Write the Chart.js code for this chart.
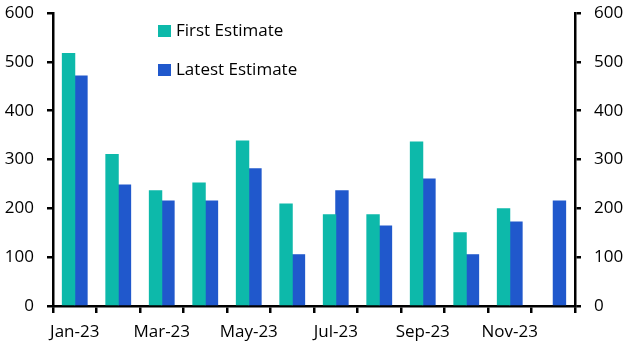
<!DOCTYPE html>
<html>
<head>
<meta charset="utf-8">
<script src="https://cdn.jsdelivr.net/npm/chart.js@4"></script>
<style>
  html, body { margin: 0; padding: 0; background: #fff; }
  #wrap { width: 628px; height: 353px; }
</style>
</head>
<body>
<div id="wrap"><canvas id="chart" width="628" height="353"></canvas></div>
<script>
const months = ['Jan-23', 'Feb-23', 'Mar-23', 'Apr-23', 'May-23', 'Jun-23',
                'Jul-23', 'Aug-23', 'Sep-23', 'Oct-23', 'Nov-23', 'Dec-23'];
const firstEstimate = [517, 310, 236, 252, 338, 209, 187, 187, 336, 150, 199, null];
const latestEstimate = [471, 248, 215, 215, 281, 105, 236, 164, 260, 105, 172, 215];

const teal = '#0DB9AA';
const blue = '#2058CC';
const font = { family: '"Open Sans", sans-serif', size: 17 };

// legend drawn inside the plot, stacked vertically
const legendPlugin = {
    id: 'innerLegend',
    afterDraw(chart) {
        const ctx = chart.ctx;
        ctx.save();
        ctx.font = font.size + 'px ' + font.family;
        ctx.textBaseline = 'middle';
        chart.data.datasets.forEach((ds, i) => {
            const y = 31 + i * 39;
            ctx.fillStyle = ds.backgroundColor;
            ctx.fillRect(158, y - 6, 13, 12);
            ctx.fillStyle = '#000';
            ctx.fillText(ds.label, 176, y);
        });
        ctx.restore();
    }
};

const yAxis = (pos) => ({
    position: pos,
    min: 0,
    max: 600,
    ticks: { stepSize: 100, color: '#000', font: font, padding: 13 },
    grid: { drawOnChartArea: false, drawTicks: true, tickLength: 6, tickColor: '#000', lineWidth: 2.5 },
    border: { display: true, color: '#000', width: 2.5 },
    afterFit: (s) => { s.width = 53; s.paddingTop = 0; s.paddingBottom = 0; }
});

new Chart(document.getElementById('chart'), {
    type: 'bar',
    data: {
        labels: months,
        datasets: [{
            label: 'First Estimate',
            data: firstEstimate,
            backgroundColor: teal,
            categoryPercentage: 0.57,
            barPercentage: 1,
            inflateAmount: 0.5
        }, {
            label: 'Latest Estimate',
            data: latestEstimate,
            backgroundColor: blue,
            categoryPercentage: 0.57,
            barPercentage: 1,
            inflateAmount: 0.5
        }]
    },
    options: {
        responsive: false,
        animation: false,
        layout: { padding: { top: 13, bottom: 0, left: 0, right: 0 } },
        plugins: {
            legend: { display: false },
            tooltip: { enabled: false }
        },
        scales: {
            x: {
                ticks: {
                    color: '#000',
                    font: font,
                    autoSkip: false,
                    maxRotation: 0,
                    padding: 9,
                    callback: function (val, idx) { return idx % 2 === 0 ? this.getLabelForValue(val) : ''; }
                },
                grid: { drawOnChartArea: false, drawTicks: true, tickLength: 7, tickColor: '#000', lineWidth: 2.5, offset: true },
                border: { display: true, color: '#000', width: 2.5 },
                afterFit: (s) => { s.height = 47; s.paddingLeft = 0; s.paddingRight = 0; }
            },
            y: yAxis('left'),
            y2: yAxis('right')
        }
    },
    plugins: [legendPlugin]
});
</script>
</body>
</html>
